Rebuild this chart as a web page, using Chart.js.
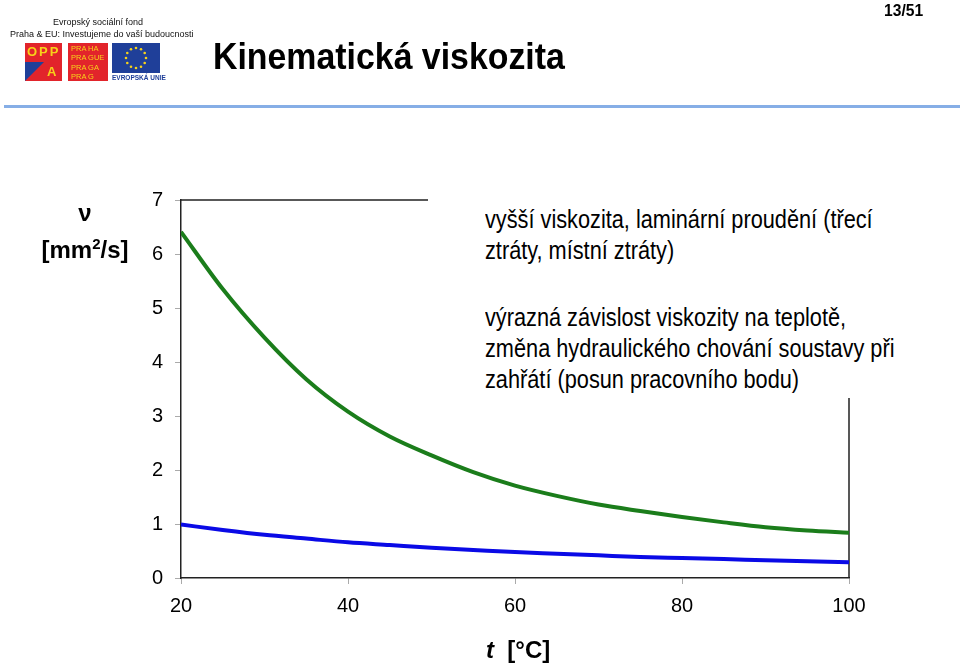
<!DOCTYPE html>
<html>
<head>
<meta charset="utf-8">
<script src="https://cdn.jsdelivr.net/npm/chart.js@4"></script>
<style>
  body { margin: 0; background: #fff; font-family: "Liberation Sans", Arial, sans-serif; }
  #page { position: relative; width: 960px; height: 665px; overflow: hidden; }
  #chart { position: absolute; left: 0; top: 0; }
  .abs { position: absolute; white-space: nowrap; }
  #title { left: 213px; top: 36px; font: bold 37px "Liberation Sans", sans-serif; color: #000; transform: scaleX(0.915); transform-origin: left top; }
  #pageno { left: 884px; top: 1px; font: bold 17px "Liberation Sans", sans-serif; transform: scaleX(0.92); transform-origin: left top; }
  #sep { left: 4px; top: 105px; width: 956px; height: 3px; background: #86aee6; }
  .small { font-size: 9px; color: #111; }
  #box { left: 428px; top: 190px; width: 480px; height: 208px; background: #fff; }
  .note { font: 26.5px "Liberation Sans", sans-serif; color: #000; line-height: 31px; transform: scaleX(0.82); transform-origin: left top; }
  #ylab { left: 30px; top: 197px; width: 110px; text-align: center; font: bold 24px "Liberation Sans", Arial, sans-serif; line-height: 31px; }
  #xlab { left: 486px; top: 636px; font: bold 24px "Liberation Sans", Arial, sans-serif; }
  .oppa { left: 25px; top: 43px; width: 37px; height: 38px; background: #e2242b; }
  .praha { left: 68px; top: 43px; width: 40px; height: 38px; background: #e2242b; color: #f7d21a; font: 7.5px "Liberation Sans", sans-serif; line-height: 9.3px; padding: 1px 0 0 3px; box-sizing: border-box; overflow: hidden; }
  .eu { left: 112px; top: 43px; width: 48px; height: 30px; background: #1f3f99; }
</style>
</head>
<body>
<div id="page">
  <canvas id="chart" width="960" height="665"></canvas>

  <div class="abs small" style="left:53px;top:17px;">Evropský sociální fond</div>
  <div class="abs small" style="left:10px;top:29px;">Praha &amp; EU: Investujeme do vaší budoucnosti</div>
  <div class="abs oppa">
    <div class="abs" style="left:2px;top:1px;color:#f7d21a;font:bold 13px 'Liberation Sans',sans-serif;letter-spacing:2px;">OPP</div>
    <div class="abs" style="left:0;top:19px;width:0;height:0;border-top:19px solid #1f3f99;border-right:19px solid transparent;"></div>
    <div class="abs" style="left:22px;top:21px;color:#f7d21a;font:bold 13px 'Liberation Sans',sans-serif;">A</div>
  </div>
  <div class="abs praha">PRA HA<br>PRA GUE<br>PRA GA<br>PRA G</div>
  <div class="abs eu">
    <svg width="48" height="30" viewBox="0 0 48 30">
      <g fill="#f7d21a">
        <circle cx="24" cy="5" r="1.3"/><circle cx="29" cy="6.3" r="1.3"/><circle cx="32.7" cy="10" r="1.3"/>
        <circle cx="34" cy="15" r="1.3"/><circle cx="32.7" cy="20" r="1.3"/><circle cx="29" cy="23.7" r="1.3"/>
        <circle cx="24" cy="25" r="1.3"/><circle cx="19" cy="23.7" r="1.3"/><circle cx="15.3" cy="20" r="1.3"/>
        <circle cx="14" cy="15" r="1.3"/><circle cx="15.3" cy="10" r="1.3"/><circle cx="19" cy="6.3" r="1.3"/>
      </g>
    </svg>
  </div>
  <div class="abs" style="left:112px;top:74px;font:bold 6.5px 'Liberation Sans',sans-serif;color:#1f3f99;">EVROPSKÁ UNIE</div>

  <div class="abs" id="title">Kinematická viskozita</div>
  <div class="abs" id="pageno">13/51</div>
  <div class="abs" id="sep"></div>

  <div class="abs" id="ylab">ν<br>[mm<sup style="font-size:15px;">2</sup>/s]</div>
  <div class="abs" id="xlab"><i>t</i>&nbsp; [°C]</div>

  <div class="abs" id="box">
    <div class="abs note" style="left:57px;top:14px;">vyšší viskozita, laminární proudění (třecí<br>ztráty, místní ztráty)</div>
    <div class="abs note" style="left:57px;top:112px;">výrazná závislost viskozity na teplotě,<br>změna hydraulického chování soustavy při<br>zahřátí (posun pracovního bodu)</div>
  </div>
</div>

<script>
// temperatures [°C] and kinematic viscosity [mm2/s]
const temps = [20, 25, 30, 35, 40, 45, 50, 55, 60, 65, 70, 75, 80, 85, 90, 95, 100];
const oilVisc = [6.41, 5.35, 4.45, 3.68, 3.08, 2.62, 2.27, 1.96, 1.71, 1.52, 1.36, 1.24, 1.13, 1.03, 0.94, 0.88, 0.84];
const waterVisc = [0.99, 0.89, 0.80, 0.73, 0.66, 0.61, 0.56, 0.52, 0.48, 0.45, 0.42, 0.39, 0.37, 0.35, 0.33, 0.31, 0.29];
const xTicks = [20, 40, 60, 80, 100];

const toPoints = vals => temps.map((t, i) => ({ x: t, y: vals[i] }));

// frame round the plot area (top and right sides partly hidden by the text box)
const framePlugin = {
  id: 'frame',
  beforeDatasetsDraw(chart) {
    const { ctx, chartArea: a } = chart;
    ctx.save();
    ctx.strokeStyle = '#222';
    ctx.lineWidth = 1.5;
    ctx.beginPath();
    ctx.moveTo(a.left, a.top);
    ctx.lineTo(a.right, a.top);
    ctx.lineTo(a.right, a.bottom);
    ctx.stroke();
    ctx.restore();
  }
};

new Chart(document.getElementById('chart').getContext('2d'), {
  type: 'line',
  data: {
    datasets: [
      {
        label: 'olej',
        data: toPoints(oilVisc),
        borderColor: '#1b7d1b',
        borderWidth: 4,
        pointRadius: 0,
        cubicInterpolationMode: 'monotone'
      },
      {
        label: 'voda',
        data: toPoints(waterVisc),
        borderColor: '#0a0ae6',
        borderWidth: 4,
        pointRadius: 0,
        cubicInterpolationMode: 'monotone'
      }
    ]
  },
  options: {
    responsive: false,
    animation: false,
    layout: { padding: { left: 141, right: 111, top: 200, bottom: 47 } },
    scales: {
      x: {
        type: 'linear',
        min: 20,
        max: 100,
        afterBuildTicks: axis => { axis.ticks = xTicks.map(v => ({ value: v })); },
        afterFit: axis => { axis.height = 40; },
        grid: { drawOnChartArea: false, tickLength: 6, color: '#aaa' },
        border: { color: '#222', width: 1.5 },
        ticks: { color: '#000', padding: 10, font: { family: 'Liberation Sans', size: 20 } }
      },
      y: {
        min: 0,
        max: 7,
        afterFit: axis => { axis.width = 40; },
        grid: { drawOnChartArea: false, tickLength: 6, color: '#aaa' },
        border: { color: '#222', width: 1.5 },
        ticks: { stepSize: 1, color: '#000', padding: 12, font: { family: 'Liberation Sans', size: 20 } }
      }
    },
    plugins: {
      legend: { display: false },
      tooltip: { enabled: false }
    }
  },
  plugins: [framePlugin]
});
</script>
</body>
</html>
